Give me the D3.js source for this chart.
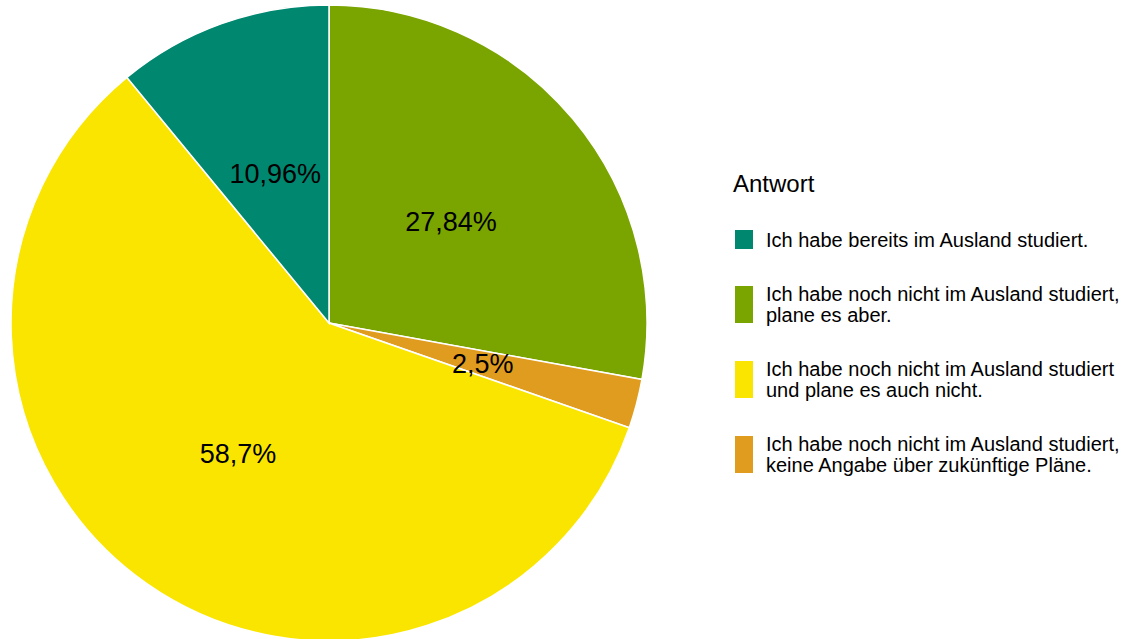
<!DOCTYPE html>
<html>
<head>
<meta charset="utf-8">
<script src="https://cdn.jsdelivr.net/npm/d3@7"></script>
<style>
  html, body { margin: 0; padding: 0; background: #fff; }
  svg { display: block; font-family: "Liberation Sans", Arial, sans-serif; }
</style>
</head>
<body>
<svg id="chart" width="1121" height="639"></svg>
<script>
const categories = [
  "Ich habe bereits im Ausland studiert.",
  "Ich habe noch nicht im Ausland studiert, plane es aber.",
  "Ich habe noch nicht im Ausland studiert und plane es auch nicht.",
  "Ich habe noch nicht im Ausland studiert, keine Angabe über zukünftige Pläne."
];
const legendLines = [
  ["Ich habe bereits im Ausland studiert."],
  ["Ich habe noch nicht im Ausland studiert,", "plane es aber."],
  ["Ich habe noch nicht im Ausland studiert", "und plane es auch nicht."],
  ["Ich habe noch nicht im Ausland studiert,", "keine Angabe über zukünftige Pläne."]
];
const values = [10.96, 27.84, 58.7, 2.5];
const valueLabels = ["10,96%", "27,84%", "58,7%", "2,5%"];
const colors = ["#008770", "#7aa400", "#fae500", "#e09c1e"];
const drawOrder = [1, 3, 2, 0]; // clockwise from 12 o'clock
const legendTitle = "Antwort";

const svg = d3.select("#chart");
const cx = 329, cy = 323, R = 318;

const pieData = drawOrder.map(i => ({ i, v: values[i] }));
const pie = d3.pie().value(d => d.v).sort(null);
const arcs = pie(pieData);
const arc = d3.arc().innerRadius(0).outerRadius(R);
const labelArc = d3.arc().innerRadius(R * 0.5).outerRadius(R * 0.5);

const g = svg.append("g").attr("transform", `translate(${cx},${cy})`);
g.selectAll("path").data(arcs).join("path")
  .attr("d", arc)
  .attr("fill", d => colors[d.data.i])
  .attr("stroke", "#fff")
  .attr("stroke-width", 1.5);

g.selectAll("text").data(arcs).join("text")
  .attr("transform", d => `translate(${labelArc.centroid(d)})`)
  .attr("text-anchor", "middle")
  .attr("dy", "0.36em")
  .attr("font-size", 27)
  .attr("fill", "#000")
  .text(d => valueLabels[d.data.i]);

// Legend
const lg = svg.append("g");
lg.append("text").attr("x", 733).attr("y", 192).attr("font-size", 24).attr("fill", "#000").text(legendTitle);

const itemTops = [230, 286, 361, 436];
const lineH = 21;
categories.forEach((c, i) => {
  const lines = legendLines[i];
  const h = lines.length === 1 ? 19 : 37;
  lg.append("rect").attr("x", 735).attr("y", itemTops[i]).attr("width", 18).attr("height", h).attr("fill", colors[i]);
  const midY = itemTops[i] + h / 2;
  const firstBase = midY + 7 - (lines.length - 1) * lineH / 2;
  const t = lg.append("text").attr("font-size", 20).attr("fill", "#000");
  lines.forEach((ln, k) => {
    t.append("tspan").attr("x", 766).attr("y", firstBase + k * lineH).text(ln);
  });
});
</script>
</body>
</html>
